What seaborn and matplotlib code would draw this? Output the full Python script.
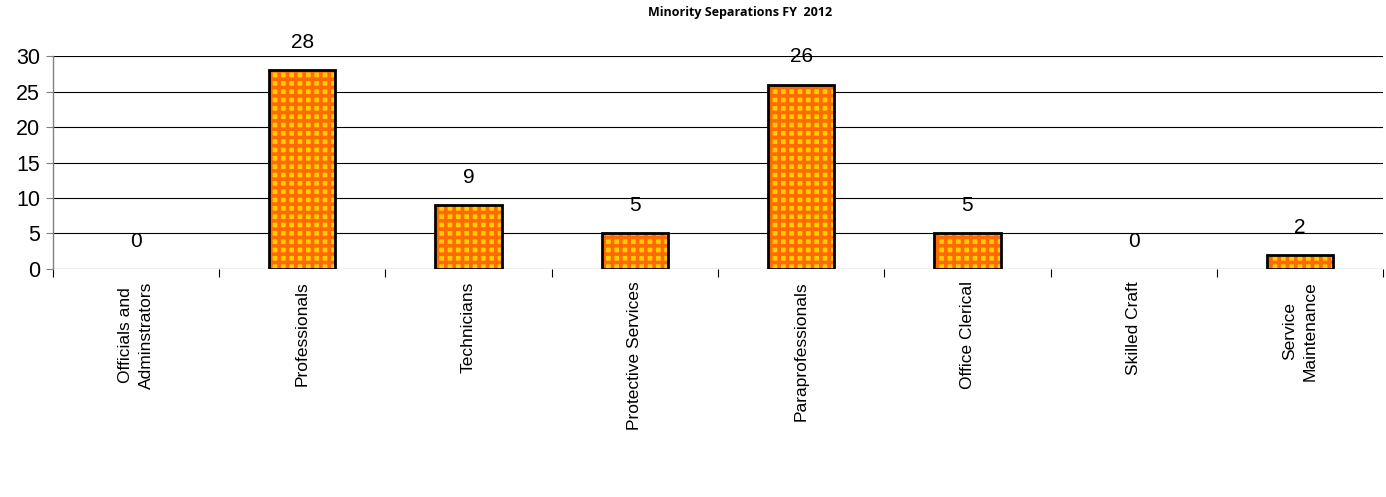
import matplotlib
matplotlib.use("Agg")
import matplotlib.pyplot as plt
import seaborn as sns
import pandas as pd
import numpy as np

categories = ["Officials and\nAdminstrators", "Professionals", "Technicians",
              "Protective Services", "Paraprofessionals", "Office Clerical",
              "Skilled Craft", "Service\nMaintenance"]
values = [0, 28, 9, 5, 26, 5, 0, 2]
yticks = [0, 5, 10, 15, 20, 25, 30]
title = "Minority Separations FY  2012"

sns.set_theme(style="white")
plt.rcParams['font.family'] = ['Liberation Sans', 'DejaVu Sans']
plt.rcParams['hatch.linewidth'] = 2.6
plt.rcParams['text.color'] = 'black'
plt.rcParams['xtick.color'] = 'black'
plt.rcParams['ytick.color'] = 'black'

df = pd.DataFrame({"cat": categories, "val": values})

fig = plt.figure(figsize=(13.86, 4.97), dpi=100)
ax = fig.add_axes([0.038, 0.459, 0.960, 0.428])

# patterned fill: yellow base with orange grid -> checker look
sns.barplot(data=df, x="cat", y="val", ax=ax, color="#FFCC00", saturation=1,
            width=0.4, linewidth=0, zorder=3)
for p in ax.patches:
    p.set_hatch("++")
    p.set_edgecolor("#FF6A00")
    p.set_linewidth(0)
n_fill = len(ax.patches)
# black outline
sns.barplot(data=df, x="cat", y="val", ax=ax, color="white", saturation=1,
            width=0.4, linewidth=2, edgecolor="black", zorder=4)
for p in ax.patches[n_fill:]:
    p.set_facecolor("none")
    p.set_edgecolor("black")
    p.set_linewidth(2)
    if p.get_height() == 0:
        p.set_visible(False)

for i, v in enumerate(values):
    ax.annotate(str(v), (i, v), xytext=(0, 13), textcoords="offset points",
                ha="center", va="bottom", fontsize=15, color="black")

ax.set_ylim(0, 30)
ax.set_xlim(-0.5, len(categories) - 0.5)
ax.set_yticks(yticks)
ax.set_yticklabels([str(t) for t in yticks], fontsize=15.5)
ax.set_xticks(range(len(categories)))
ax.set_xticklabels(categories, rotation=90, fontsize=12.5, va="top", ha="center",
                   linespacing=1.45)
ax.set_xticks(np.arange(-0.5, len(categories) - 0.4, 1.0), minor=True)
ax.set_xlabel("")
ax.set_ylabel("")
for y in yticks:
    ax.axhline(y, color="black", linewidth=0.8, zorder=1)
ax.tick_params(axis="y", left=True, length=5, width=0.8, color="#808080", pad=4)
ax.tick_params(axis="x", which="major", bottom=False, pad=3)
ax.tick_params(axis="x", which="minor", bottom=True, length=6, width=0.8,
               color="black")
for s in ["top", "right", "bottom"]:
    ax.spines[s].set_visible(False)
ax.spines["left"].set_color("#808080")
ax.spines["left"].set_linewidth(1)

fig.text(0.534, 0.975, title, ha="center", va="center", fontsize=9,
         fontweight="bold", family=["Open Sans", "DejaVu Sans"])

fig.savefig("out.png", dpi=100)
